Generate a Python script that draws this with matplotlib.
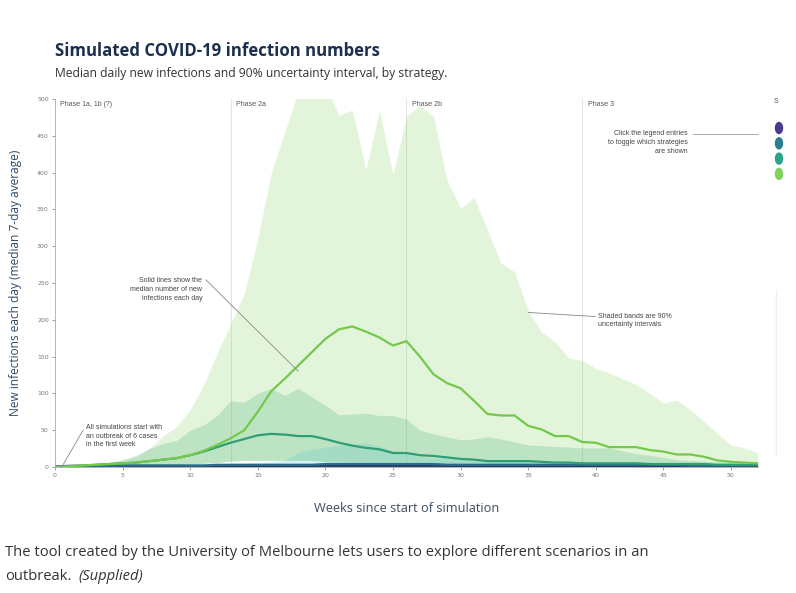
import matplotlib.pyplot as plt
from matplotlib.patches import Ellipse
import numpy as np

# weeks since start of simulation
weeks = list(range(53))

# strategy 4 (light green): median and 90% interval
s4_median = [0, 1, 2, 3, 4, 5, 6, 8, 10, 12, 16, 22, 30, 39, 50, 75, 103, 120, 138, 156,
             174, 187, 191, 184, 176, 165, 171, 150, 126, 114, 107, 90, 72, 70, 70, 56, 51,
             42, 42, 34, 33, 27, 27, 27, 23, 21, 17, 17, 14, 9, 7, 6, 5]
s4_upper = [1, 2, 3, 4, 6, 9, 14, 26, 42, 55, 78, 112, 155, 195, 235, 310, 400, 455, 510, 540,
            520, 478, 485, 404, 485, 397, 476, 492, 476, 390, 352, 366, 322, 277, 265, 213, 183,
            170, 148, 145, 134, 128, 120, 112, 100, 87, 91, 78, 62, 46, 30, 26, 19]
s4_lower = [0, 0, 0, 0, 1, 1, 1, 2, 2, 3, 4, 5, 6, 8, 9, 9, 9, 9, 9, 9,
            8, 8, 7, 7, 6, 6, 5, 5, 4, 4, 4, 3, 3, 3, 3, 3, 3,
            2, 2, 2, 2, 2, 2, 2, 2, 1, 1, 1, 1, 1, 1, 1, 1]

# strategy 3 (teal green)
s3_median = [0, 1, 2, 3, 4, 5, 6, 8, 10, 12, 16, 21, 27, 33, 38, 43, 45, 44, 42, 42,
             38, 33, 29, 26, 24, 19, 19, 16, 15, 13, 11, 10, 8, 8, 8, 8, 7,
             6, 6, 5, 5, 5, 5, 5, 4, 4, 4, 4, 4, 3, 3, 3, 3]
s3_upper = [1, 2, 3, 4, 6, 10, 16, 25, 32, 36, 50, 57, 70, 90, 88, 100, 107, 97, 107, 95,
            84, 71, 72, 73, 70, 70, 65, 50, 45, 41, 37, 38, 41, 38, 34, 30, 29,
            28, 27, 26, 26, 26, 22, 18, 16, 13, 10, 9, 8, 7, 7, 6, 5]
s3_lower = [0, 0, 0, 0, 1, 1, 1, 2, 2, 3, 4, 5, 6, 8, 9, 9, 9, 9, 9, 9,
            7, 6, 5, 4, 4, 3, 3, 3, 2, 2, 2, 2, 2, 2, 2, 2, 2,
            1, 1, 1, 1, 1, 1, 1, 1, 1, 1, 1, 1, 1, 1, 1, 1]

# strategy 2 (blue teal)
s2_median = [0, 1, 1, 1, 1, 2, 2, 2, 2, 2, 2, 2, 3, 3, 3, 3, 3, 3, 3, 3,
             4, 4, 4, 4, 4, 4, 4, 4, 4, 3, 3, 3, 3, 3, 3, 3, 3,
             3, 3, 3, 3, 3, 3, 3, 3, 3, 3, 2, 2, 2, 2, 2, 2]
s2_upper = [1, 1, 2, 2, 2, 3, 3, 3, 3, 3, 3, 4, 4, 5, 5, 6, 7, 9, 20, 24,
            27, 30, 31, 33, 28, 22, 18, 14, 12, 11, 10, 9, 9, 8, 8, 7, 7,
            7, 7, 6, 6, 6, 6, 6, 5, 5, 5, 5, 5, 4, 4, 4, 3]

# strategy 1 (dark navy)
s1_median = [0, 1, 1, 1, 1, 1, 1, 1, 1, 1, 1, 1, 1, 1, 1, 1, 1, 1, 1, 1,
             1, 1, 1, 1, 1, 1, 1, 1, 1, 1, 1, 1, 1, 1, 1, 1, 1,
             1, 1, 1, 1, 1, 1, 1, 1, 1, 1, 1, 1, 1, 1, 1, 1]

phases = [13, 26, 39]
phase_names = ['Phase 2a', 'Phase 2b', 'Phase 3']
legend_colors = ['#4a3c8c', '#2a7f8e', '#2aa58a', '#7ed35a']

sans = ['Open Sans', 'DejaVu Sans']
small = ['Liberation Sans', 'DejaVu Sans']

fig = plt.figure(figsize=(7.96, 5.93), dpi=100)
ax = fig.add_axes([0.0691, 0.2125, 0.883, 0.6205])

ax.fill_between(weeks, s4_lower, s4_upper, color='#7ed35a', alpha=0.22, lw=0)
ax.fill_between(weeks, s3_lower, s3_upper, color='#3aa86e', alpha=0.22, lw=0)
ax.fill_between(weeks, 0, s2_upper, color='#5cc4d0', alpha=0.25, lw=0)

ax.plot(weeks, s1_median, color='#2c3e6b', lw=2.2)
ax.plot(weeks, s2_median, color='#2a6d8a', lw=1.6)
ax.plot(weeks, s3_median, color='#2e9e74', lw=1.6)
ax.plot(weeks, s4_median, color='#74c84c', lw=1.6)

for p, name in zip(phases, phase_names):
    ax.axvline(p, color='#e4e4e4', lw=0.8, zorder=0)
    ax.text(p + 0.4, 497, name, fontsize=5, color='#555555', va='top', family=small)
ax.text(0.4, 497, 'Phase 1a, 1b (?)', fontsize=5, color='#555555', va='top', family=small)

ax.set_xlim(0, 52)
ax.set_ylim(0, 500)
ax.set_xticks(range(0, 51, 5))
ax.set_yticks(range(0, 501, 50))
ax.tick_params(labelsize=4.5, colors='#777777', length=2.5, width=0.5, pad=2)
for s in ['top', 'right']:
    ax.spines[s].set_visible(False)
for s in ['left', 'bottom']:
    ax.spines[s].set_color('#aaaaaa')
    ax.spines[s].set_linewidth(0.6)

ax.set_xlabel('Weeks since start of simulation', fontsize=9.2, color='#3d4b5c',
              family=sans, labelpad=17)
ax.set_ylabel('New infections each day (median 7-day average)', fontsize=8.6,
              color='#2f4a66', family=sans, labelpad=11)

# annotations
ak = dict(fontsize=5, color='#444444', family=small, linespacing=1.35)
ax.annotate('All simulations start with\nan outbreak of 6 cases\nin the first week',
            xy=(0.5, 0), xytext=(2.3, 42), va='center', ha='left',
            arrowprops=dict(arrowstyle='-', color='#888888', lw=0.6,
                            shrinkA=0, shrinkB=0, relpos=(0, 0.95)), **ak)
ax.annotate('Solid lines show the\nmedian number of new\ninfections each day',
            xy=(18.0, 130), xytext=(10.9, 241), va='center', ha='right',
            arrowprops=dict(arrowstyle='-', color='#888888', lw=0.6,
                            shrinkA=0, shrinkB=0, relpos=(1.05, 0.9)), **ak)
ax.annotate('Shaded bands are 90%\nuncertainty intervals',
            xy=(35.0, 210), xytext=(40.2, 199), va='center', ha='left',
            arrowprops=dict(arrowstyle='-', color='#888888', lw=0.6,
                            shrinkA=0, shrinkB=0, relpos=(-0.03, 0.75)), **ak)
ax.text(46.8, 441, 'Click the legend entries\nto toggle which strategies\nare shown',
        ha='right', va='center', **ak)
ax.plot([47.2, 52], [452, 452], color='#999999', lw=0.6, clip_on=False)

# partially visible legend on the right edge
for i, c in enumerate(legend_colors):
    fig.add_artist(Ellipse((779 / 796, 1 - (128 + i * 15.3) / 593), 7 / 796, 11 / 593,
                           transform=fig.transFigure, color=c))
fig.text(774 / 796, 1 - 103 / 593, 'S', fontsize=5, color='#555555', family=small)
fig.add_artist(plt.Line2D([776 / 796, 776 / 796], [1 - 290 / 593, 1 - 455 / 593],
                          color='#eeeef6', lw=1.0, transform=fig.transFigure))

fig.text(55 / 796, 1 - 51 / 593, 'Simulated COVID-19 infection numbers', fontsize=12.1,
         weight='bold', color='#1c2f4e', family=sans, va='center')
fig.text(55 / 796, 1 - 74 / 593,
         'Median daily new infections and 90% uncertainty interval, by strategy.',
         fontsize=8.75, color='#333333', family=sans, va='center')

fig.text(5 / 796, 1 - 552 / 593,
         'The tool created by the University of Melbourne lets users to explore different scenarios in an',
         fontsize=10.6, color='#333333', family=sans, va='center')
fig.text(5 / 796, 1 - 576 / 593, 'outbreak.', fontsize=10.6, color='#333333',
         family=sans, va='center')
fig.text(78 / 796, 1 - 576 / 593, '(Supplied)', fontsize=10.6, color='#333333',
         family=sans, style='italic', va='center')

fig.savefig('out.png', dpi=100)
